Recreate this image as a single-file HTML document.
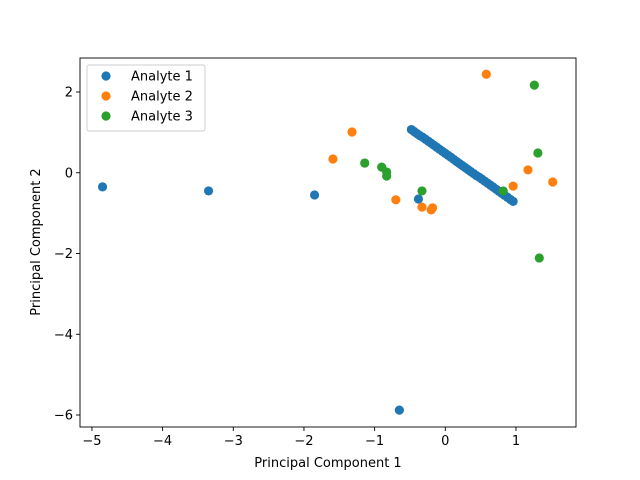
<!DOCTYPE html>
<html><head><meta charset="utf-8"><style>body{margin:0;background:#fff}svg{display:block;font-family:"DejaVu Sans","Liberation Sans",sans-serif}</style></head>
<body>
<svg id="chart" width="640" height="480" xmlns="http://www.w3.org/2000/svg">
<rect width="640" height="480" fill="#fff"/>
<g id="marks"></g>
<g id="axes"></g>
</svg>
<script>
const a1x=[-0.48,-0.44,-0.40,-0.36,-0.32,-0.28,-0.24,-0.20,-0.16,-0.12,-0.08,-0.04,0.00,0.04,0.08,0.12,0.16,0.20,0.24,0.28,0.32,0.36,0.40,0.44,0.48,0.52,0.56,0.60,0.64,0.68,0.72,0.76,0.80,0.84,0.88,0.92,0.96,-4.85,-3.35,-1.85,-0.38,-0.65];
const a1y=[1.07,1.02,0.97,0.92,0.88,0.83,0.78,0.73,0.68,0.63,0.58,0.53,0.48,0.43,0.38,0.33,0.28,0.23,0.18,0.13,0.08,0.03,-0.02,-0.07,-0.11,-0.16,-0.21,-0.26,-0.31,-0.36,-0.41,-0.46,-0.51,-0.56,-0.61,-0.66,-0.71,-0.35,-0.45,-0.55,-0.65,-5.88];
const a2x=[-1.59,-1.32,-0.70,-0.33,-0.20,-0.18,0.58,0.96,1.17,1.52];
const a2y=[0.34,1.01,-0.67,-0.85,-0.92,-0.87,2.44,-0.33,0.07,-0.23];
const a3x=[-1.14,-0.90,-0.83,-0.83,-0.33,0.82,1.26,1.31,1.33];
const a3y=[0.24,0.14,0.02,-0.08,-0.45,-0.45,2.17,0.49,-2.11];
const xTicks=[-5,-4,-3,-2,-1,0,1];
const yTicks=[-6,-4,-2,0,2];
const seriesNames=["Analyte 1","Analyte 2","Analyte 3"];
const colors=["#1f77b4","#ff7f0e","#2ca02c"];
const L=80,R=576,T=58,B=427;
const X=v=>445.3+v*70.67;
const Y=v=>172.75-v*40.375;
const NS="http://www.w3.org/2000/svg";
function mk(tag,attrs,parent){const e=document.createElementNS(NS,tag);for(const k in attrs)e.setAttribute(k,attrs[k]);parent.appendChild(e);return e;}
const marks=document.getElementById('marks'),axes=document.getElementById('axes');
const sets=[[a1x,a1y],[a2x,a2y],[a3x,a3y]];
sets.forEach((s,si)=>{s[0].forEach((xv,i)=>{const c=mk('circle',{cx:X(xv),cy:Y(s[1][i]),r:4.6,fill:colors[si]},marks);

});});
const frame=mk('rect',{x:L,y:T,width:R-L,height:B-T,fill:'none',stroke:'#000','stroke-width':0.9},axes);


xTicks.forEach(t=>{const x=X(t);mk('line',{x1:x,x2:x,y1:B,y2:B+4,stroke:'#000','stroke-width':0.9},axes);
const tx=mk('text',{x:x,y:B+18,'text-anchor':'middle','font-size':13},axes);tx.textContent=t<0?'\u2212'+(-t):t;

});
yTicks.forEach(t=>{const y=Y(t);mk('line',{x1:L-4,x2:L,y1:y,y2:y,stroke:'#000','stroke-width':0.9},axes);
const tx=mk('text',{x:L-7,y:y+4.5,'text-anchor':'end','font-size':13},axes);tx.textContent=t<0?'\u2212'+(-t):t;

});
const xt=mk('text',{x:328,y:467,'text-anchor':'middle','font-size':13},axes);xt.textContent='Principal Component 1';


const yt=mk('text',{x:40,y:242,'text-anchor':'middle','font-size':13,transform:'rotate(-90 40 242)'},axes);yt.textContent='Principal Component 2';


const lg=mk('rect',{x:87,y:65,width:118,height:66,rx:2,fill:'#fff','fill-opacity':0.8,stroke:'#ccc','stroke-width':0.9},axes);


seriesNames.forEach((n,i)=>{const y=76+i*20;
const c=mk('circle',{cx:106,cy:y,r:4.6,fill:colors[i]},axes);


const t=mk('text',{x:131,y:y+4.5,'font-size':13},axes);t.textContent=n;

});
</script>
</body></html>
